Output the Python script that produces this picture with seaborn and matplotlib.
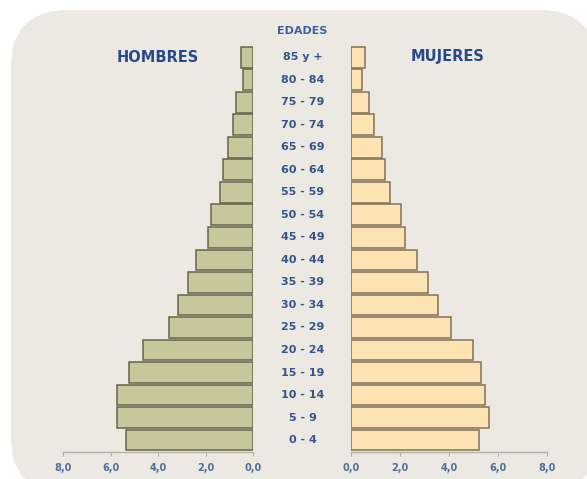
import matplotlib
matplotlib.use("Agg")
import matplotlib.pyplot as plt
import matplotlib.transforms as mtransforms
from matplotlib.patches import FancyBboxPatch
import pandas as pd
import seaborn as sns

# ── datos ─────────────────────────────────────────────────────────────────────

EDADES = ["85 y +", "80 - 84", "75 - 79", "70 - 74", "65 - 69", "60 - 64",
          "55 - 59", "50 - 54", "45 - 49", "40 - 44", "35 - 39", "30 - 34",
          "25 - 29", "20 - 24", "15 - 19", "10 - 14", "5 - 9", "0 - 4"]
HOMBRES = [0.53, 0.45, 0.73, 0.87, 1.07, 1.26, 1.40, 1.78, 1.92,
           2.43, 2.74, 3.16, 3.54, 4.63, 5.23, 5.75, 5.75, 5.36]
MUJERES = [0.57, 0.44, 0.75, 0.94, 1.28, 1.39, 1.59, 2.03, 2.20,
           2.71, 3.16, 3.57, 4.08, 5.00, 5.30, 5.48, 5.64, 5.25]
TICKS = [0, 2, 4, 6, 8]

W, H = 587, 479
BG = "#ECE9E2"
AXIS_COL = "#B7AF9E"
TICK_COL = "#4F6E9E"
LABEL_COL = "#33548C"
TITLE_COL = "#264B8A"

sns.set_theme(style="white")
plt.rcParams["font.family"] = ["DejaVu Sans"]

fig = plt.figure(figsize=(W / 100, H / 100), dpi=100)
fig.patch.set_facecolor("white")

# fondo redondeado
bg = FancyBboxPatch((0.11, -0.15), 5.86, 4.84,
                    boxstyle="round,pad=0,rounding_size=0.58",
                    transform=fig.dpi_scale_trans, facecolor=BG,
                    edgecolor="none", zorder=-1)
fig.add_artist(bg)


def px_axes(x0, x1, y_top, y_bot):
    return fig.add_axes([x0 / W, (H - y_bot) / H, (x1 - x0) / W, (y_bot - y_top) / H])


ax_h = px_axes(63.3, 253.3, 45, 452.3)
ax_m = px_axes(351, 546.7, 45, 452.3)

df = pd.DataFrame({"edad": EDADES, "hombres": HOMBRES, "mujeres": MUJERES})

sns.barplot(data=df, x="hombres", y="edad", order=EDADES, orient="h", ax=ax_h,
            color="#C8C69B", saturation=1, width=0.92,
            edgecolor="#65644B", linewidth=1.1)
sns.barplot(data=df, x="mujeres", y="edad", order=EDADES, orient="h", ax=ax_m,
            color="#FEE3B2", saturation=1, width=0.92,
            edgecolor="#807157", linewidth=1.1)

tick_labels = [f"{t:.1f}".replace(".", ",") for t in TICKS]
for ax, lims in ((ax_h, (8, 0)), (ax_m, (0, 8))):
    ax.set_facecolor("none")
    ax.set_xlim(*lims)
    ax.set_ylim(len(EDADES) - 0.5 + 0.04, -0.5 - 0.04)
    ax.set_xticks(TICKS)
    ax.set_xticklabels(tick_labels, fontsize=7, fontweight="bold", color=TICK_COL)
    ax.set_yticks([])
    ax.set_xlabel("")
    ax.set_ylabel("")
    for side in ("left", "right", "top"):
        ax.spines[side].set_visible(False)
    ax.spines["bottom"].set_color(AXIS_COL)
    ax.spines["bottom"].set_linewidth(1.0)
    ax.tick_params(axis="x", bottom=True, length=3, width=0.8,
                   color=AXIS_COL, pad=5)

# etiquetas de edad en el centro
trans = mtransforms.blended_transform_factory(fig.transFigure, ax_m.transData)
for i, edad in enumerate(EDADES):
    fig.text(303 / W, i, edad, transform=trans, ha="center", va="center",
             fontsize=8, fontweight="bold", color=LABEL_COL)

fig.text(302 / W, 1 - 31 / H, "EDADES", ha="center", va="center",
         fontsize=8, fontweight="bold", color="#3C63A0")
fig.text(158 / W, 1 - 57 / H, "HOMBRES", ha="center", va="center",
         fontsize=10.5, fontweight="bold", color=TITLE_COL)
fig.text(448 / W, 1 - 57 / H, "MUJERES", ha="center", va="center",
         fontsize=10.5, fontweight="bold", color=TITLE_COL)

plt.savefig("out.png", dpi=100)
plt.close()
